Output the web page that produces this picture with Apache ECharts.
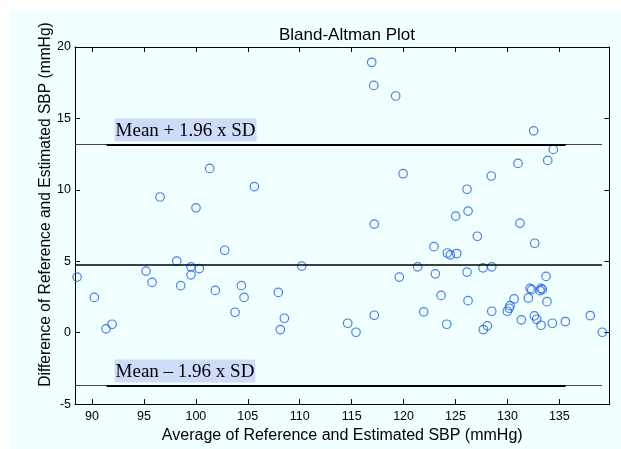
<!DOCTYPE html>
<html>
<head>
<meta charset="utf-8">
<script src="https://cdn.jsdelivr.net/npm/echarts@6/dist/echarts.min.js"></script>
<style>
  html, body { margin: 0; padding: 0; background: #ffffff; overflow: hidden; }
  #panel { position: absolute; left: 10px; top: 10px; width: 611px; height: 439px; background: #f0ffff; }
  #chart { position: absolute; left: 0; top: 0; width: 621px; height: 449px; }
</style>
</head>
<body>
<div id="panel"></div>
<div id="chart"></div>
<script>
// x: average of reference and estimated SBP, y: difference (mmHg)
const avgSBP = [
    88.56, 90.22, 91.35, 91.93, 95.20, 95.78, 96.55, 98.16, 98.54, 99.53,
    99.53, 100.01, 100.33, 101.33, 101.87, 102.78, 103.77, 104.38, 104.64, 105.63,
    107.94, 108.13, 108.52, 110.19, 114.62, 115.42, 116.93, 117.13, 117.18, 117.18,
    119.24, 119.59, 119.95, 121.36, 121.94, 122.93, 123.06, 123.61, 124.16, 124.21,
    124.50, 125.12, 125.02, 126.11, 126.21, 126.11, 126.21, 127.10, 127.65, 127.68,
    128.07, 128.45, 128.49, 128.49, 129.99, 130.18, 130.25, 130.64, 131.02, 131.21,
    131.34, 132.01, 132.18, 132.34, 132.53, 132.59, 132.63, 132.82, 133.14, 133.24,
    133.36, 133.24, 133.72, 133.81, 133.88, 134.33, 134.42, 135.58, 137.98, 139.14
];
const diffSBP = [
    3.89, 2.47, 0.27, 0.59, 4.31, 3.52, 9.50, 5.01, 3.29, 4.61,
    4.05, 8.74, 4.49, 11.50, 2.96, 5.77, 1.43, 3.29, 2.47, 10.23,
    2.82, 0.22, 1.01, 4.66, 0.66, 0.03, 18.93, 17.31, 7.60, 1.22,
    16.57, 3.89, 11.13, 4.61, 1.46, 6.02, 4.12, 2.61, 0.59, 5.58,
    5.45, 5.54, 8.16, 10.04, 8.51, 4.24, 2.24, 6.75, 4.54, 0.22,
    0.48, 10.97, 4.61, 1.50, 1.50, 1.71, 1.89, 2.36, 11.85, 7.67,
    0.90, 2.43, 3.10, 3.01, 14.13, 1.18, 6.26, 0.94, 2.94, 3.10,
    3.01, 0.52, 3.94, 2.17, 12.06, 0.66, 12.83, 0.78, 1.20, 0.03
];
const xTicks = [90, 95, 100, 105, 110, 115, 120, 125, 130, 135];
const xRange = [88.36, 139.83];
const yRange = [-5, 20];
const meanDiff = 4.75;
const upperLimit = 13.18;
const lowerLimit = -3.70;
const lineSpanThin = [88.36, 139.1];
const lineSpanBold = [91.4, 135.6];

const points = avgSBP.map((x, i) => [x, diffSBP[i]]);

const chart = echarts.init(document.getElementById('chart'));

const labelBox = (text) => ({
    show: true,
    position: 'insideStartTop',
    formatter: text,
    distance: [8, 3],
    color: '#000',
    fontFamily: 'Liberation Serif',
    fontSize: 19,
    backgroundColor: '#cddcf9',
    padding: [3, 1, 1, 1]
});

const seg = (span, y, width, color, label) => [
    { coord: [span[0], y], lineStyle: { width: width, color: color, type: 'solid' }, label: label || { show: false } },
    { coord: [span[1], y] }
];

const tickStyle = { show: true, inside: true, length: 5, lineStyle: { color: '#000' } };
const sans = 'Liberation Sans';

chart.setOption({
    animation: false,
    title: {
        text: 'Bland-Altman Plot',
        left: 342, top: 22, textAlign: 'center',
        textStyle: { fontFamily: sans, fontSize: 17, fontWeight: 'normal', color: '#000' }
    },
    grid: { left: 75, top: 47, right: 11.5, bottom: 43 },
    xAxis: [
        {
            type: 'value', min: xRange[0], max: xRange[1], position: 'bottom',
            name: 'Average of Reference and Estimated SBP (mmHg)',
            nameLocation: 'middle', nameGap: 19,
            nameTextStyle: { fontFamily: sans, fontSize: 16, color: '#000' },
            axisLine: { show: true, onZero: false, lineStyle: { color: '#000', width: 1 } },
            axisTick: Object.assign({ customValues: xTicks }, tickStyle),
            axisLabel: { customValues: xTicks, fontFamily: sans, fontSize: 12.5, color: '#000', margin: 6 },
            splitLine: { show: false }
        },
        {
            type: 'value', min: xRange[0], max: xRange[1], position: 'top',
            axisLine: { show: true, onZero: false, lineStyle: { color: '#000', width: 1 } },
            axisTick: Object.assign({ customValues: xTicks }, tickStyle),
            axisLabel: { show: false },
            splitLine: { show: false }
        }
    ],
    yAxis: [
        {
            type: 'value', min: yRange[0], max: yRange[1], interval: 5, position: 'left',
            name: 'Difference of Reference and Estimated SBP (mmHg)',
            nameLocation: 'middle', nameGap: 21, nameRotate: 90, nameMoveOverlap: false,
            nameTextStyle: { fontFamily: sans, fontSize: 15.6, color: '#000', padding: [0, 0, 0, 42] },
            axisLine: { show: true, onZero: false, lineStyle: { color: '#000', width: 1 } },
            axisTick: tickStyle,
            axisLabel: { fontFamily: sans, fontSize: 12.5, color: '#000', margin: 4 },
            splitLine: { show: false }
        },
        {
            type: 'value', min: yRange[0], max: yRange[1], interval: 5, position: 'right',
            axisLine: { show: true, onZero: false, lineStyle: { color: '#000', width: 1 } },
            axisTick: tickStyle,
            axisLabel: { show: false },
            splitLine: { show: false }
        }
    ],
    series: [
        {
            type: 'scatter',
            data: points,
            symbol: 'circle',
            symbolSize: 8.5,
            itemStyle: { color: 'rgba(0,0,0,0)', borderColor: '#1f5ef5', borderWidth: 1.2 },
            markLine: {
                silent: true,
                symbol: ['none', 'none'],
                data: [
                    seg(lineSpanThin, upperLimit, 1, '#444'),
                    seg(lineSpanBold, upperLimit, 2, '#000', labelBox('Mean + 1.96 x SD')),
                    seg(lineSpanThin, meanDiff, 1.5, '#000'),
                    seg(lineSpanThin, lowerLimit, 1, '#444'),
                    seg(lineSpanBold, lowerLimit, 2, '#000', labelBox('Mean – 1.96 x SD'))
                ]
            }
        }
    ]
});
</script>
</body>
</html>
